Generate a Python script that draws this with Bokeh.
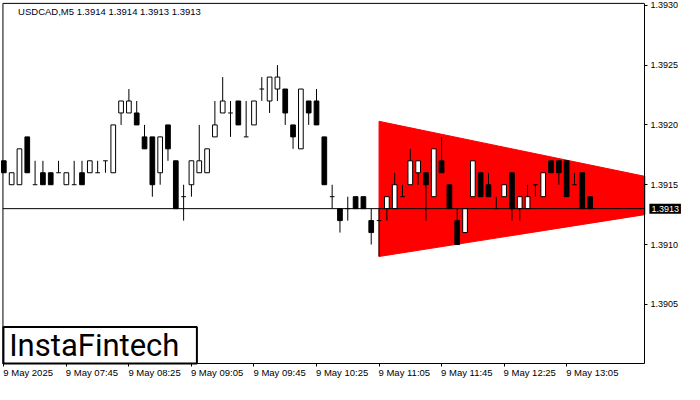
import numpy as np
from bokeh.plotting import figure
from bokeh.models import (ColumnDataSource, FixedTicker, PrintfTickFormatter,
                          Label, LabelSet, BoxAnnotation, Range1d)
from bokeh.core.properties import value
from bokeh.embed import file_html
from bokeh.resources import INLINE

# ---------------- data ----------------
title_text = "USDCAD,M5  1.3914 1.3914 1.3913 1.3913"
opens = [1.3917, 1.3915, 1.3915, 1.3919, 1.3915, 1.3916, 1.3916, 1.3916, 1.3915, 1.3915,
         1.3916, 1.3916, 1.3916, 1.3917, 1.3916, 1.3921, 1.3921, 1.3921, 1.3919, 1.3919,
         1.3916, 1.3920, 1.3917, 1.3914, 1.3915, 1.3916, 1.3916, 1.3919, 1.3921, 1.3921,
         1.3922, 1.3919, 1.3920, 1.3923, 1.3922, 1.3923, 1.3923, 1.3920, 1.3918, 1.3922,
         1.3922, 1.3919, 1.3914, 1.3913, 1.3913, 1.3914, 1.3914, 1.3912, 1.3912, 1.3913,
         1.3913, 1.3914, 1.3915, 1.3916, 1.3916, 1.3914, 1.3917, 1.3915, 1.3912, 1.3911,
         1.3914, 1.3916, 1.3915, 1.3913, 1.3914, 1.3916, 1.3913, 1.3913, 1.3915, 1.3914,
         1.3917, 1.3917, 1.3917, 1.3915, 1.3916, 1.3914]
highs = [1.3917, 1.3916, 1.3918, 1.3919, 1.3917, 1.3917, 1.3916, 1.3917, 1.3916, 1.3917,
         1.3917, 1.3917, 1.3917, 1.3917, 1.3920, 1.3922, 1.3923, 1.3922, 1.3920, 1.3919,
         1.3919, 1.3920, 1.3917, 1.3915, 1.3917, 1.3920, 1.3918, 1.3922, 1.3924, 1.3922,
         1.3922, 1.3922, 1.3922, 1.3924, 1.3924, 1.3925, 1.3923, 1.3920, 1.3923, 1.3922,
         1.3923, 1.3919, 1.3915, 1.3913, 1.3914, 1.3914, 1.3914, 1.3913, 1.3913, 1.3914,
         1.3916, 1.3915, 1.3918, 1.3917, 1.3916, 1.3918, 1.3919, 1.3915, 1.3913, 1.3913,
         1.3917, 1.3916, 1.3916, 1.3914, 1.3915, 1.3916, 1.3914, 1.3915, 1.3915, 1.3916,
         1.3917, 1.3917, 1.3917, 1.3916, 1.3916, 1.3914]
lows = [1.3916, 1.3915, 1.3915, 1.3916, 1.3915, 1.3915, 1.3915, 1.3916, 1.3915, 1.3915,
        1.3915, 1.3916, 1.3916, 1.3916, 1.3916, 1.3920, 1.3921, 1.3920, 1.3918, 1.3914,
        1.3915, 1.3917, 1.3913, 1.3912, 1.3914, 1.3916, 1.3916, 1.3919, 1.3921, 1.3919,
        1.3920, 1.3919, 1.3920, 1.3922, 1.3921, 1.3922, 1.3920, 1.3918, 1.3918, 1.3920,
        1.3920, 1.3915, 1.3913, 1.3911, 1.3912, 1.3913, 1.3913, 1.3910, 1.3909, 1.3912,
        1.3913, 1.3914, 1.3915, 1.3915, 1.3912, 1.3914, 1.3916, 1.3913, 1.3910, 1.3911,
        1.3914, 1.3914, 1.3914, 1.3913, 1.3914, 1.3912, 1.3912, 1.3913, 1.3914, 1.3914,
        1.3916, 1.3915, 1.3914, 1.3915, 1.3913, 1.3913]
closes = [1.3916, 1.3916, 1.3918, 1.3916, 1.3915, 1.3915, 1.3915, 1.3916, 1.3916, 1.3915,
          1.3915, 1.3917, 1.3916, 1.3917, 1.3920, 1.3922, 1.3922, 1.3920, 1.3918, 1.3915,
          1.3919, 1.3918, 1.3913, 1.3914, 1.3917, 1.3917, 1.3918, 1.3920, 1.3922, 1.3921,
          1.3920, 1.3919, 1.3922, 1.3923, 1.3924, 1.3924, 1.3921, 1.3919, 1.3923, 1.3921,
          1.3920, 1.3915, 1.3914, 1.3912, 1.3913, 1.3913, 1.3913, 1.3911, 1.3912, 1.3914,
          1.3915, 1.3914, 1.3917, 1.3917, 1.3915, 1.3918, 1.3916, 1.3913, 1.3910, 1.3913,
          1.3917, 1.3914, 1.3914, 1.3913, 1.3915, 1.3913, 1.3914, 1.3914, 1.3915, 1.3916,
          1.3916, 1.3916, 1.3914, 1.3915, 1.3913, 1.3913]
x_tick_bars = [0, 8, 16, 24, 32, 40, 48, 56, 64, 72]
x_tick_labels = ["9 May 2025", "9 May 07:45", "9 May 08:25", "9 May 09:05", "9 May 09:45",
                 "9 May 10:25", "9 May 11:05", "9 May 11:45", "9 May 12:25", "9 May 13:05"]
y_ticks = [1.3905, 1.3910, 1.3915, 1.3920, 1.3925, 1.3930]
current_price = 1.3913
tri_x = [48, 82, 82, 48]
tri_y = [1.39203, 1.39157, 1.39125, 1.39090]
logo_text = "InstaFintech"

# ---------------- layout helpers (reference pixel -> data) ----------------
def rx(px):
    return (px - 3.4) / 8.0

def ry(py):
    return 1.3930 - (py - 5.0) * 0.0005 / 62.3

FL, FR = rx(2.5), rx(659)      # plot frame left / right (data)
FB, FT = ry(378), ry(3)        # plot frame bottom / top (data)

FONT_NAME = "Liberation Sans"
FONT = value(FONT_NAME)
FS = "9px"
FS_X = "9.5px"

p = figure(width=684, height=384, output_backend="svg", toolbar_location=None,
           x_range=Range1d(rx(0), rx(700)), y_range=Range1d(ry(400), ry(0)),
           y_axis_location="right", min_border=0,
           min_border_left=0, min_border_right=0, min_border_top=0, min_border_bottom=0,
           background_fill_color="white", border_fill_color="white")
p.grid.visible = False
p.outline_line_color = None

# triangle pattern
p.patch(tri_x, tri_y, fill_color="#FF0000", line_color="#FF0000", line_width=1)

# candles
n = len(opens)
idx = list(range(n))
o = np.array(opens); c = np.array(closes)
top = np.maximum(o, c); bot = np.minimum(o, c)
colors = ["white" if cc > oo else "black" for oo, cc in zip(opens, closes)]
src = ColumnDataSource(dict(x=idx, h=highs, l=lows))
p.segment(x0="x", y0="l", x1="x", y1="h", source=src, line_color="black", line_width=1)
body_mask = [abs(cc - oo) > 1e-9 for oo, cc in zip(opens, closes)]
bsrc = ColumnDataSource(dict(x=[i for i, m in zip(idx, body_mask) if m],
                             top=[t for t, m in zip(top, body_mask) if m],
                             bot=[b for b, m in zip(bot, body_mask) if m],
                             color=[cl for cl, m in zip(colors, body_mask) if m]))
p.vbar(x="x", width=0.6, top="top", bottom="bot", source=bsrc,
       fill_color="color", line_color="black", line_width=1)
dsrc = ColumnDataSource(dict(x0=[i - 0.3 for i, m in zip(idx, body_mask) if not m],
                             x1=[i + 0.3 for i, m in zip(idx, body_mask) if not m],
                             y=[oo for oo, m in zip(opens, body_mask) if not m]))
p.segment(x0="x0", y0="y", x1="x1", y1="y", source=dsrc, line_color="black", line_width=1)

# current price line (across the plot frame)
p.segment(x0=[FL], y0=[current_price], x1=[FR], y1=[current_price],
          line_color="black", line_width=1)

# frame: left and top borders (right/bottom are the axes)
p.segment(x0=[FL, FL], y0=[FB, FT], x1=[FL, FR], y1=[FT, FT], line_color="black", line_width=1)

# right price axis
ya = p.yaxis[0]
ya.fixed_location = FR
ya.bounds = (FB, FT)
ya.ticker = FixedTicker(ticks=y_ticks)
ya.formatter = PrintfTickFormatter(format="%.4f")
ya.major_tick_out = 3
ya.major_tick_in = 0
ya.minor_tick_line_color = None
ya.axis_line_color = "black"
ya.major_tick_line_color = "black"
ya.major_label_standoff = 3
ya.major_label_text_font = FONT_NAME
ya.major_label_text_font_size = FS
ya.major_label_text_color = "black"

# bottom time axis (tick marks; labels drawn left-aligned below)
xa = p.xaxis[0]
xa.fixed_location = FB
xa.bounds = (FL, FR)
xa.ticker = FixedTicker(ticks=x_tick_bars)
xa.major_label_overrides = {t: "" for t in x_tick_bars}
xa.major_tick_out = 3
xa.major_tick_in = 0
xa.minor_tick_line_color = None
xa.axis_line_color = "black"
xa.major_tick_line_color = "black"

lsrc = ColumnDataSource(dict(x=x_tick_bars, y=[ry(387)] * len(x_tick_bars), text=x_tick_labels))
p.add_layout(LabelSet(x="x", y="y", text="text", source=lsrc, text_align="left",
                      text_baseline="middle", text_font=FONT, text_font_size=FS_X,
                      text_color="black", x_offset=-0.5))

# title
p.add_layout(Label(x=rx(18), y=ry(11), text=title_text, text_align="left",
                   text_baseline="middle", text_font=FONT_NAME, text_font_size=FS_X,
                   text_color="#000020"))

# current price tag
p.add_layout(Label(x=rx(661), y=current_price, x_offset=3, text="1.3913", text_align="left",
                   text_baseline="middle", text_font=FONT_NAME, text_font_size=FS,
                   text_color="white", background_fill_color="black", padding=2))

# logo
p.add_layout(BoxAnnotation(left=rx(3), right=rx(201), bottom=FB, top=ry(340),
                           fill_color="white", fill_alpha=1.0, line_color="black",
                           line_width=2, line_alpha=1.0))
p.add_layout(Label(x=rx(96), y=ry(359), text=logo_text, text_align="center",
                   text_baseline="middle", text_font="Roboto", text_font_size="31px",
                   text_color="black"))

open("out.html", "w").write(file_html(p, INLINE))
